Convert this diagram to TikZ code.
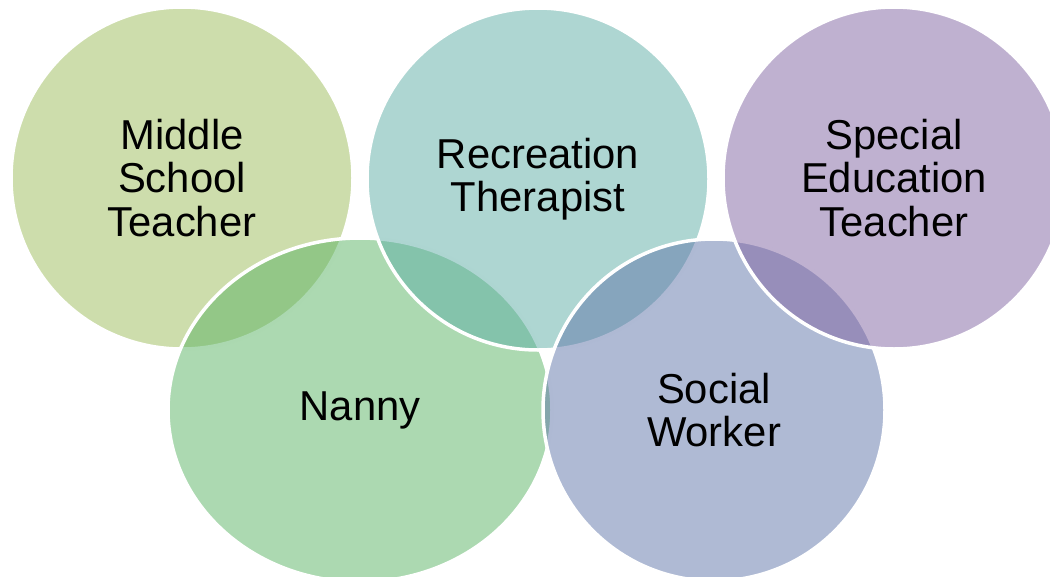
\documentclass[tikz,border=0pt]{standalone}
\usepackage{fontspec}
\setmainfont{Liberation Sans}
\usetikzlibrary{shapes.geometric}

\definecolor{mstgreen}{HTML}{9BBB59}
\definecolor{nannygreen}{HTML}{59B363}
\definecolor{recteal}{HTML}{5DADA5}
\definecolor{swblue}{HTML}{5F75A9}
\definecolor{setpurple}{HTML}{8064A2}

\begin{document}
\begin{tikzpicture}[x=1pt, y=-1pt,
  ring/.style={circle, minimum size=342pt, inner sep=0pt, draw=white,
    line width=3.5pt, fill opacity=0.5, text opacity=1, align=center,
    font=\fontsize{41.8}{43.5}\selectfont}]
\useasboundingbox (0,0) rectangle (1050,576);
\clip (0,0) rectangle (1050,576);

\node[ring, fill=mstgreen] (MST) at (182, 178) {Middle\\School\\Teacher};
\node[ring, fill=nannygreen, ellipse, minimum width=384pt, minimum height=344pt] (NAN) at (360, 410) {Nanny};
\node[ring, fill=recteal] (REC) at (538, 179) {Recreation\\Therapist};
\node[ring, fill=swblue] (SW) at (714, 410) {Social\\Worker};
\node[ring, fill=setpurple] (SET) at (894, 178) {Special\\Education\\Teacher};
\end{tikzpicture}
\end{document}
